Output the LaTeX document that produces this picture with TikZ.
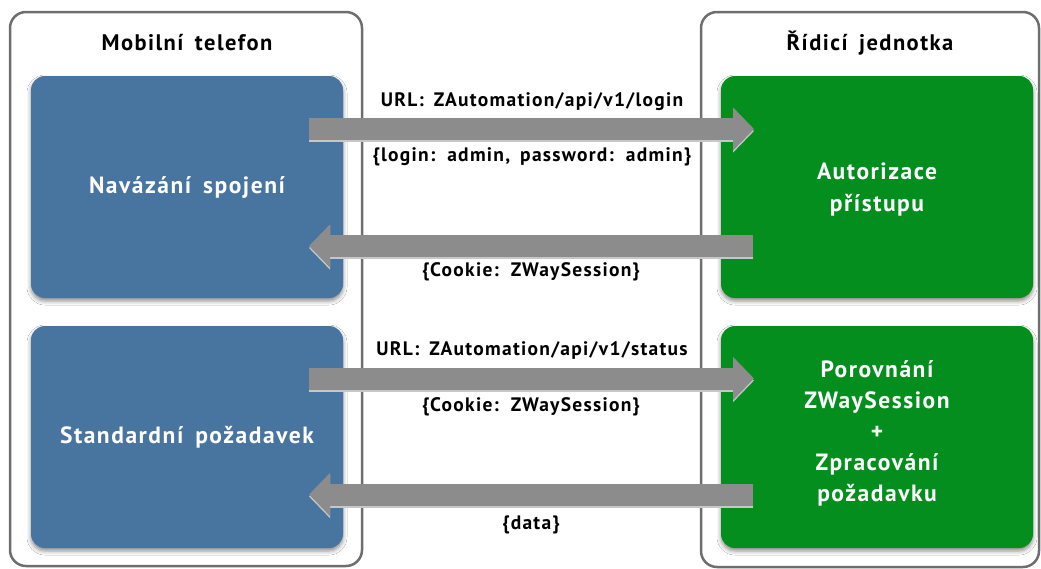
\documentclass[tikz,border=0pt]{standalone}
\usepackage{fontspec}
\setmainfont[WordSpace=1.6,LetterSpace=6.5]{PT Sans}
\usetikzlibrary{arrows.meta,shadows.blur}

\definecolor{phoneblue}{RGB}{72,116,160}
\definecolor{unitgreen}{RGB}{3,142,30}
\definecolor{flowgray}{RGB}{140,140,140}
\definecolor{framegray}{RGB}{110,110,110}

\tikzset{
  frame/.style={draw=framegray, line width=2.5pt, rounded corners=16pt, fill=white},
  title/.style={font=\fontsize{22.5}{26}\selectfont\bfseries, text=black},
  card/.style={rounded corners=14pt, minimum width=312pt, minimum height=222pt,
    inner sep=0pt, outer sep=0pt, text=white, align=center,
    font=\fontsize{23.5}{32}\selectfont\bfseries,
    blur shadow={shadow xshift=0pt, shadow yshift=-3pt, shadow blur radius=4pt, shadow opacity=45}},
  bluecard/.style={card, fill=phoneblue},
  greencard/.style={card, fill=unitgreen},
  msg/.style={font=\fontsize{19.5}{22}\selectfont\bfseries, text=black},
  flow/.style={draw=flowgray, line width=22pt,
    -{Triangle[width=42pt,length=21pt]}},
  flowshade/.style={draw=black!22, line width=22pt,
    -{Triangle[width=42pt,length=21pt]}, transform canvas={yshift=-2pt}}
}

\begin{document}
\begin{tikzpicture}[x=1pt,y=-1pt]
\useasboundingbox (0,0) rectangle (1041,568);

% outer frames of the two sides
\draw[frame] (10,12) rectangle (362,566);
\draw[frame] (701,12) rectangle (1039,567);
\node[title] (phone) at (187,43) {Mobilní telefon};
\node[title] (unit) at (870,43) {Řídicí jednotka};

% phone side
\node[bluecard] (conn) at (187,187) {Navázání spojení};
\node[bluecard] (req) at (187,437) {Standardní požadavek};

% control unit side
\node[greencard, text depth=0pt] (auth) at (877,187) {Autorizace\\přístupu};
\node[greencard, text depth=11pt, font=\fontsize{23.5}{31}\selectfont\bfseries] (proc) at (877,437)
  {Porovnání\\ZWaySession\\+\\Zpracování\\požadavku};

% arrow end points, tucked into the cards
\coordinate (c1) at ([xshift=-34pt,yshift=58pt]conn.east);
\coordinate (a1) at ([xshift=33pt,yshift=58pt]auth.west);
\coordinate (a2) at ([xshift=32pt,yshift=-59pt]auth.west);
\coordinate (c2) at ([xshift=-34pt,yshift=-59pt]conn.east);
\coordinate (r1) at ([xshift=-34pt,yshift=58.5pt]req.east);
\coordinate (p1) at ([xshift=33pt,yshift=58.5pt]proc.west);
\coordinate (p2) at ([xshift=32pt,yshift=-57.5pt]proc.west);
\coordinate (r2) at ([xshift=-34pt,yshift=-57.5pt]req.east);

% shadows of the arrows
\draw[flowshade] (c1) -- (a1);
\draw[flowshade] (a2) -- (c2);
\draw[flowshade] (r1) -- (p1);
\draw[flowshade] (p2) -- (r2);

% arrows
\draw[flow] (c1) -- (a1);
\draw[flow] (a2) -- (c2);
\draw[flow] (r1) -- (p1);
\draw[flow] (p2) -- (r2);

% messages
\node[msg] (m1) at (532,102) {URL: ZAutomation/api/v1/login};
\node[msg] (m2) at (532,157) {\{login: admin, password: admin\}};
\node[msg] (m3) at (531,272) {\{Cookie: ZWaySession\}};
\node[msg] (m4) at (532,351) {URL: ZAutomation/api/v1/status};
\node[msg] (m5) at (531,407) {\{Cookie: ZWaySession\}};
\node[msg] (m6) at (531,525) {\{data\}};
\end{tikzpicture}
\end{document}
